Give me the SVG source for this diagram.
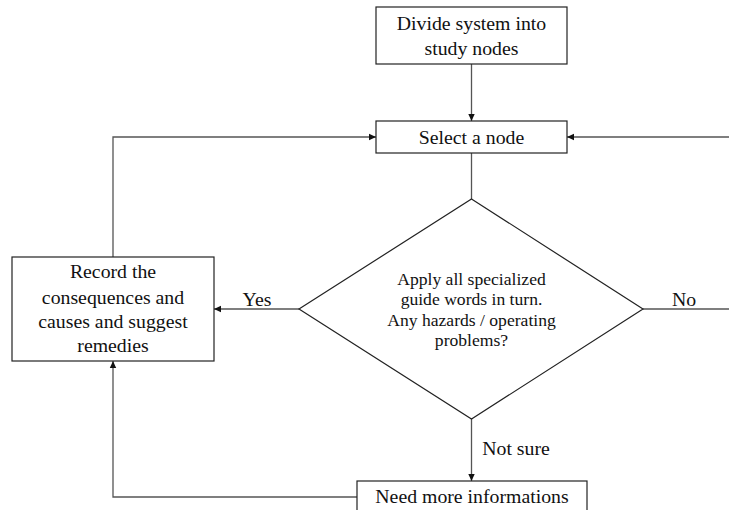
<svg xmlns="http://www.w3.org/2000/svg" width="729" height="510" viewBox="0 0 729 510">
<style>
.box{fill:#fff;stroke:#222;stroke-width:1.2}
.t{font-family:"Liberation Serif","Times New Roman",serif;font-size:19.8px;fill:#111;text-anchor:middle}
.d{font-size:17.6px}
.c{fill:none;stroke:#555;stroke-width:1.3}
</style>
<defs>
<marker id="ah" markerWidth="8" markerHeight="8" refX="7" refY="4" orient="auto" markerUnits="userSpaceOnUse">
<path d="M0,0.8 L7,4 L0,7.2 z" fill="#111"/>
</marker>
</defs>
<rect width="729" height="510" fill="#fff"/>
<g id="connectors">
<line class="c" x1="471.5" y1="64" x2="471.5" y2="121" marker-end="url(#ah)"/>
<line class="c" x1="471.5" y1="153" x2="471.5" y2="199"/>
<polyline class="c" points="113,257 113,137 376,137" marker-end="url(#ah)"/>
<line class="c" x1="729" y1="137" x2="567" y2="137" marker-end="url(#ah)"/>
<line class="c" x1="299" y1="309" x2="214" y2="309" marker-end="url(#ah)"/>
<line class="c" x1="643" y1="309" x2="729" y2="309"/>
<line class="c" x1="471.5" y1="419" x2="471.5" y2="481" marker-end="url(#ah)"/>
<polyline class="c" points="357,497 113,497 113,361" marker-end="url(#ah)"/>
<text class="t" x="257" y="306">Yes</text>
<text class="t" x="684" y="306">No</text>
<text class="t" x="516" y="455">Not sure</text>
</g>
<g id="divide">
<rect class="box" x="376" y="7" width="191" height="57"/>
<text class="t" x="471.5" y="30">Divide system into</text>
<text class="t" x="471.5" y="55">study nodes</text>
</g>
<g id="select">
<rect class="box" x="376" y="121" width="191" height="32"/>
<text class="t" x="471.5" y="144">Select a node</text>
</g>
<g id="decision">
<polygon class="box" points="471.5,199 643,309 471.5,419 299,309"/>
<text class="t d" x="471.5" y="285">Apply all specialized</text>
<text class="t d" x="471.5" y="305">guide words in turn.</text>
<text class="t d" x="471.5" y="326">Any hazards / operating</text>
<text class="t d" x="471.5" y="346">problems?</text>
</g>
<g id="record">
<rect class="box" x="12" y="257" width="202" height="104"/>
<text class="t" x="113" y="278">Record the</text>
<text class="t" x="113" y="304">consequences and</text>
<text class="t" x="113" y="328">causes and suggest</text>
<text class="t" x="113" y="352">remedies</text>
</g>
<g id="needmore">
<rect class="box" x="357" y="481" width="230" height="40"/>
<text class="t" x="472" y="503">Need more informations</text>
</g>
</svg>
